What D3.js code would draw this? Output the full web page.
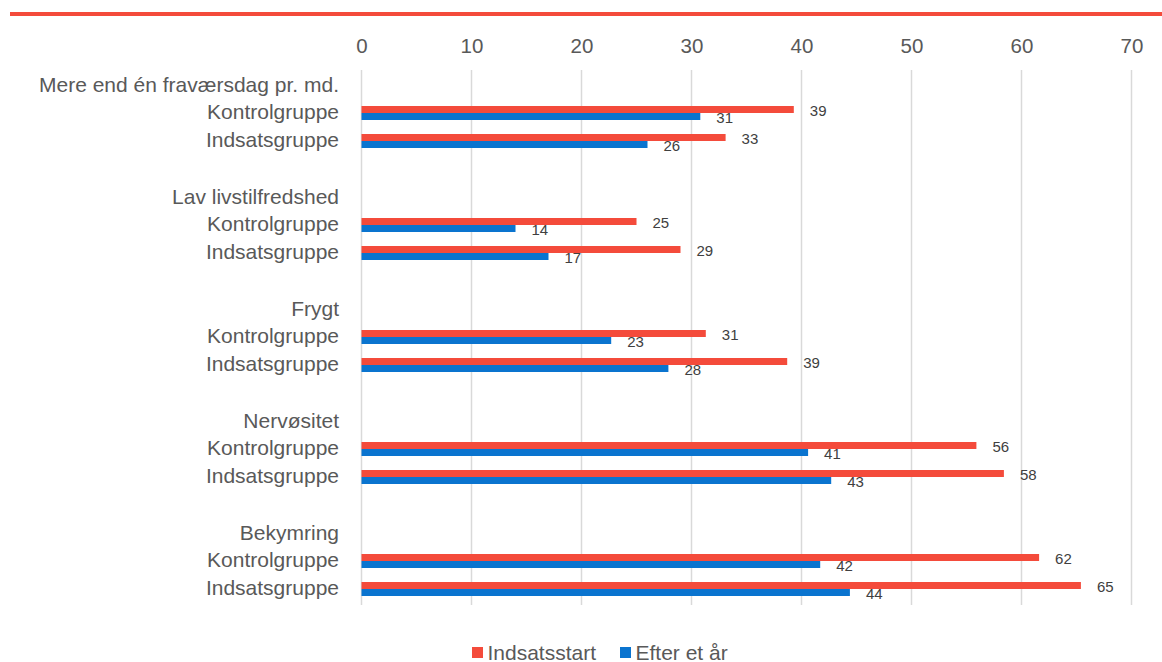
<!DOCTYPE html>
<html>
<head>
<meta charset="utf-8">
<script src="https://cdn.jsdelivr.net/npm/d3@7"></script>
<style>
  html, body { margin: 0; padding: 0; background: #fff; }
  svg { display: block; font-family: "Liberation Sans", Arial, sans-serif; }
</style>
</head>
<body>
<svg id="chart" width="1162" height="662"></svg>
<script>
// ---- Data ----
const groups = ["Mere end én fraværsdag pr. md.", "Lav livstilfredshed", "Frygt", "Nervøsitet", "Bekymring"];
const subgroups = ["Kontrolgruppe", "Indsatsgruppe"];
// values per group in order: Kontrolgruppe, Indsatsgruppe
const indsatsstart = [39.3, 33.1, 25.0, 29.0, 31.3, 38.7, 55.9, 58.4, 61.6, 65.4];
const efterEtAar   = [30.8, 26.0, 14.0, 17.0, 22.7, 27.9, 40.6, 42.7, 41.7, 44.4];
const seriesNames  = ["Indsatsstart", "Efter et år"];
const seriesColors = ["#f44b3b", "#0a74cf"];
const xTicks = [0, 10, 20, 30, 40, 50, 60, 70];

// ---- Build rows ----
const rows = [];
groups.forEach((g, gi) => {
  rows.push({ key: "h" + gi, label: g, type: "header" });
  subgroups.forEach((s, si) => {
    const idx = gi * 2 + si;
    rows.push({ key: "r" + idx, label: s, type: "bar", a: indsatsstart[idx], b: efterEtAar[idx] });
  });
  if (gi < groups.length - 1) rows.push({ key: "b" + gi, label: "", type: "blank" });
});

const svg = d3.select("#chart");

// top red rule
svg.append("rect").attr("x", 10).attr("y", 12).attr("width", 1152).attr("height", 4).attr("fill", "#f44b3b");

const x = d3.scaleLinear().domain([0, 70]).range([361.5, 1131.5]);
const y = d3.scaleBand().domain(rows.map(r => r.key)).range([71, 603]);
const bw = 7;

// gridlines
svg.append("g").selectAll("line").data(xTicks).join("line")
  .attr("x1", d => x(d)).attr("x2", d => x(d))
  .attr("y1", 70).attr("y2", 605)
  .attr("stroke", "#d9d9d9").attr("stroke-width", 1.5);

// top axis labels
const axis = d3.axisTop(x).tickValues(xTicks).tickSize(0).tickPadding(0);
const ax = svg.append("g").attr("transform", "translate(0,52.5)").call(axis);
ax.select(".domain").remove();
ax.selectAll("text").attr("font-size", "20.5px").attr("fill", "#595959")
  .attr("font-family", "Liberation Sans, Arial, sans-serif").attr("dy", 0);

// category labels
svg.append("g").selectAll("text").data(rows.filter(r => r.type !== "blank")).join("text")
  .attr("x", 339)
  .attr("y", r => y(r.key) + y.bandwidth() / 2 + (r.type === "header" ? 6.5 : 6))
  .attr("text-anchor", "end")
  .attr("font-size", "21px")
  .attr("fill", "#595959")
  .text(r => r.label);

const barRows = rows.filter(r => r.type === "bar");
const fmt = d3.format(".0f");

// bars
const gBars = svg.append("g");
gBars.selectAll("rect.a").data(barRows).join("rect").attr("class", "a")
  .attr("x", x(0)).attr("y", r => y(r.key) + y.bandwidth() / 2 - bw)
  .attr("width", r => x(r.a) - x(0)).attr("height", bw).attr("fill", seriesColors[0]);
gBars.selectAll("rect.b").data(barRows).join("rect").attr("class", "b")
  .attr("x", x(0)).attr("y", r => y(r.key) + y.bandwidth() / 2)
  .attr("width", r => x(r.b) - x(0)).attr("height", bw).attr("fill", seriesColors[1]);

// data labels
const gLab = svg.append("g").attr("font-size", "15px").attr("fill", "#404040");
gLab.selectAll("text.a").data(barRows).join("text").attr("class", "a")
  .attr("x", r => x(r.a) + 16).attr("y", r => y(r.key) + y.bandwidth() / 2 - bw / 2 + 1)
  .attr("dy", "0.35em").text(r => fmt(r.a));
gLab.selectAll("text.b").data(barRows).join("text").attr("class", "b")
  .attr("x", r => x(r.b) + 16).attr("y", r => y(r.key) + y.bandwidth() / 2 + bw / 2 + 1)
  .attr("dy", "0.35em").text(r => fmt(r.b));

// legend
const legX = [472, 620];
const leg = svg.append("g");
seriesNames.forEach((n, i) => {
  leg.append("rect").attr("x", legX[i]).attr("y", 647).attr("width", 11).attr("height", 11).attr("fill", seriesColors[i]);
  leg.append("text").attr("x", legX[i] + 15.5).attr("y", 659.5).attr("font-size", "21px").attr("fill", "#595959").text(n);
});
</script>
</body>
</html>
